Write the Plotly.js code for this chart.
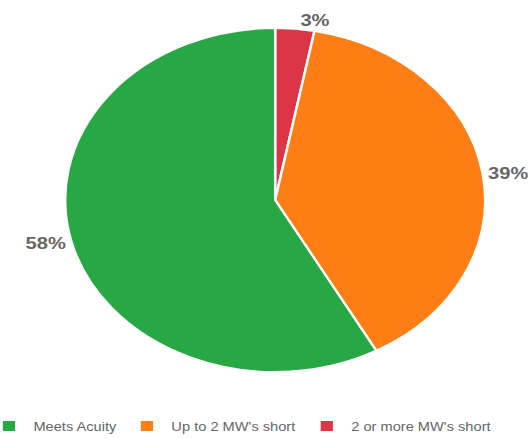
<!DOCTYPE html>
<html>
<head>
<meta charset="utf-8">
<script src="https://cdn.plot.ly/plotly-3.0.1.min.js"></script>
<style>
  html, body { margin: 0; padding: 0; background: #fff; overflow: hidden; }
  #wrap { width: 531px; height: 438px; overflow: hidden; position: relative; }
  #chart { position: absolute; left: -51.6px; top: 0; width: 475px; height: 438px; transform: scaleX(1.2207); transform-origin: 0 0; }
</style>
</head>
<body>
<div id="wrap"><div id="chart"></div></div>
<script>
// Legend order (as shown in the reference legend)
const categories = ["Meets Acuity", "Up to 2 MW's short", "2 or more MW's short"];
const values = [58, 39, 3];
const colors = ["#28a745", "#fd7e14", "#dc3545"];

// Slices are drawn clockwise from 12 o'clock in reverse order; legend reversed back
const trace = {
  type: 'pie',
  labels: categories.slice().reverse(),
  values: values.slice().reverse(),
  sort: false,
  direction: 'clockwise',
  rotation: 0,
  marker: { colors: colors.slice().reverse(), line: { color: '#ffffff', width: 2 } },
  textinfo: 'percent',
  texttemplate: '%{percent:.0%}',
  textposition: 'outside',
  outsidetextfont: { family: 'Arial, Liberation Sans, sans-serif', size: 16.5, color: '#666666', weight: 'bold' },
  hoverinfo: 'label+percent'
};

const layout = {
  width: 475,
  height: 438,
  margin: { l: 96, r: 35, t: 28, b: 66, autoexpand: false },
  paper_bgcolor: '#ffffff',
  showlegend: true,
  legend: {
    orientation: 'h',
    xref: 'paper',
    x: -0.192,
    xanchor: 'left',
    yref: 'paper',
    y: -0.157,
    yanchor: 'middle',
    font: { family: 'Arial, Liberation Sans, sans-serif', size: 12, color: '#666666' },
    traceorder: 'reversed'
  },
  font: { family: 'Arial, Liberation Sans, sans-serif', color: '#666666' }
};

Plotly.newPlot('chart', [trace], layout, { displayModeBar: false, staticPlot: true });
</script>
</body>
</html>
